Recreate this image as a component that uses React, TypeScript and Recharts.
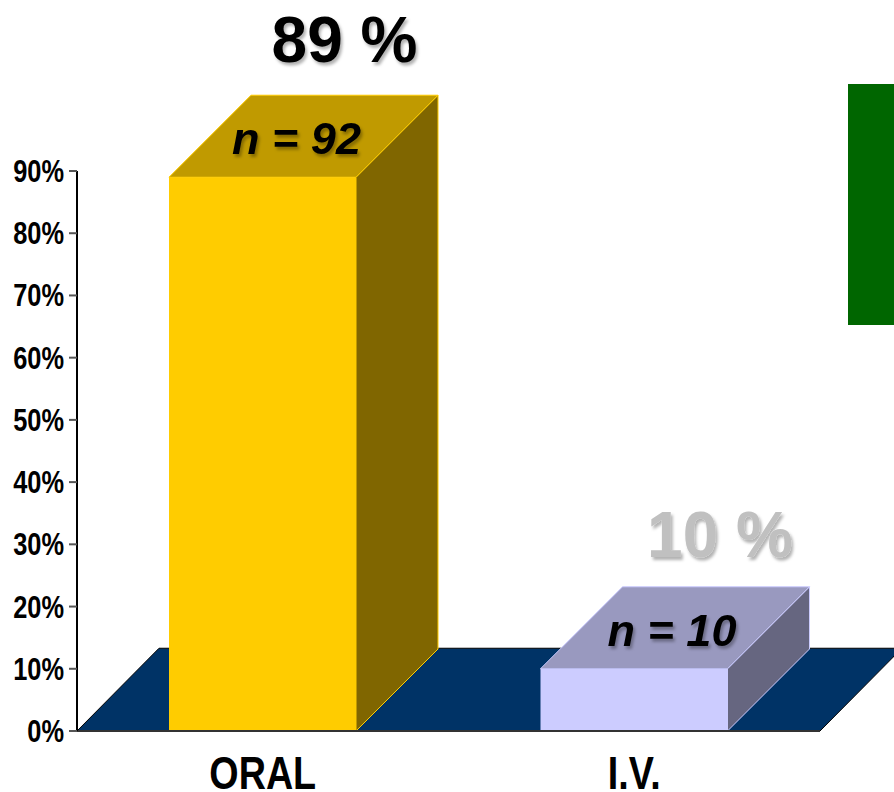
import {BarChart, Bar, XAxis, YAxis, LabelList, ReferenceArea} from 'recharts';

const categories = ['ORAL', 'I.V.'];
const shareValues = [89, 10];
const patientCounts = [92, 10];
const yTicks = [0, 10, 20, 30, 40, 50, 60, 70, 80, 90];

const FRONT_COLORS = ['#FFCC00', '#CCCCFF'];
const TOP_COLORS = ['#C09A00', '#9999BF'];
const SIDE_COLORS = ['#806600', '#666680'];
const SHARE_COLORS = ['#000000', '#C0C0C0'];

const DEPTH = 82; // how far the 3d faces recede, up and to the right
const FONT = '"Liberation Sans", Arial, sans-serif';
const NARROWING = 0.82; // no bold narrow face installed, so squeeze the regular one

const rows = categories.map((name, i) => ({
  name,
  share: shareValues[i],
  n: patientCounts[i],
}));

function Box3D({x, y, width, height, index}: any) {
  const stroke = FRONT_COLORS[index];
  const right = x + width;
  const bottom = y + height;
  return (
    <g>
      <polygon
        points={`${right},${y} ${right + DEPTH},${y - DEPTH} ${right + DEPTH},${bottom - DEPTH} ${right},${bottom}`}
        fill={SIDE_COLORS[index]}
        stroke={stroke}
        strokeWidth={1}
      />
      <polygon
        points={`${x},${y} ${x + DEPTH},${y - DEPTH} ${right + DEPTH},${y - DEPTH} ${right},${y}`}
        fill={TOP_COLORS[index]}
        stroke={stroke}
        strokeWidth={1}
      />
      <rect x={x} y={y} width={width} height={height} fill={FRONT_COLORS[index]} />
    </g>
  );
}

function Floor({x, y, width, height}: any) {
  const bottom = y + height;
  return (
    <polygon
      points={`${x},${bottom} ${x + DEPTH},${y} ${x + width + DEPTH},${y} ${x + width},${bottom}`}
      fill="#003366"
      stroke="#000000"
      strokeWidth={1}
    />
  );
}

function ShareLabel({x, y, width, value, index}: any) {
  return (
    <text
      x={x + width / 2 + (index === 0 ? 82 : 86)}
      y={y - (index === 0 ? 115 : 112)}
      textAnchor="middle"
      fontFamily={FONT}
      fontWeight="bold"
      fontSize={64}
      fill={SHARE_COLORS[index]}
      filter="url(#softShadow)"
    >
      {`${value} %`}
    </text>
  );
}

function CountLabel({x, y, width, value, index}: any) {
  return (
    <text
      x={x + width / 2 + (index === 0 ? 34 : 38)}
      y={y - 23}
      textAnchor="middle"
      fontFamily={FONT}
      fontWeight="bold"
      fontStyle="italic"
      fontSize={45}
      fill="#000000"
      filter="url(#softShadow)"
    >
      {`n = ${value}`}
    </text>
  );
}

function CategoryTick({x, payload}: any) {
  return (
    <text
      transform={`translate(${x},789) scale(${NARROWING},1)`}
      textAnchor="middle"
      fontFamily={FONT}
      fontWeight="bold"
      fontSize={46}
      fill="#000000"
    >
      {payload.value}
    </text>
  );
}

function PercentTick({y, payload}: any) {
  return (
    <text
      transform={`translate(64,${y + 11}) scale(${NARROWING},1)`}
      textAnchor="end"
      fontFamily={FONT}
      fontWeight="bold"
      fontSize={31}
      fill="#000000"
    >
      {`${payload.value}%`}
    </text>
  );
}

export default function App() {
  return (
    <div style={{position: 'absolute', left: 0, top: 0}}>
      <BarChart
        width={894}
        height={792}
        data={rows}
        margin={{top: 171, right: 74, bottom: 0, left: 0}}
        barCategoryGap={0}
      >
        <defs>
          <filter id="softShadow" x="-10%" y="-10%" width="125%" height="130%">
            <feDropShadow dx="2" dy="3" stdDeviation="1.5" floodColor="#000000" floodOpacity="0.3" />
          </filter>
        </defs>
        <XAxis
          dataKey="name"
          height={61}
          axisLine={{stroke: '#333333', strokeWidth: 2}}
          tickLine={false}
          tick={<CategoryTick />}
        />
        <YAxis
          type="number"
          domain={[0, 90]}
          ticks={yTicks}
          interval={0}
          width={77}
          axisLine={{stroke: '#000000', strokeWidth: 2}}
          tickLine={{stroke: '#555555', strokeWidth: 2}}
          tickSize={8}
          tick={<PercentTick />}
        />
        <ReferenceArea y1={0} y2={13.3} ifOverflow="visible" shape={<Floor />} />
        <Bar dataKey="share" barSize={187} shape={<Box3D />} isAnimationActive={false}>
          <LabelList dataKey="share" content={<ShareLabel />} />
          <LabelList dataKey="n" content={<CountLabel />} />
        </Bar>
        {/* green block at the right edge */}
        <rect x={848} y={84} width={46} height={241} fill="#006600" />
      </BarChart>
    </div>
  );
}
